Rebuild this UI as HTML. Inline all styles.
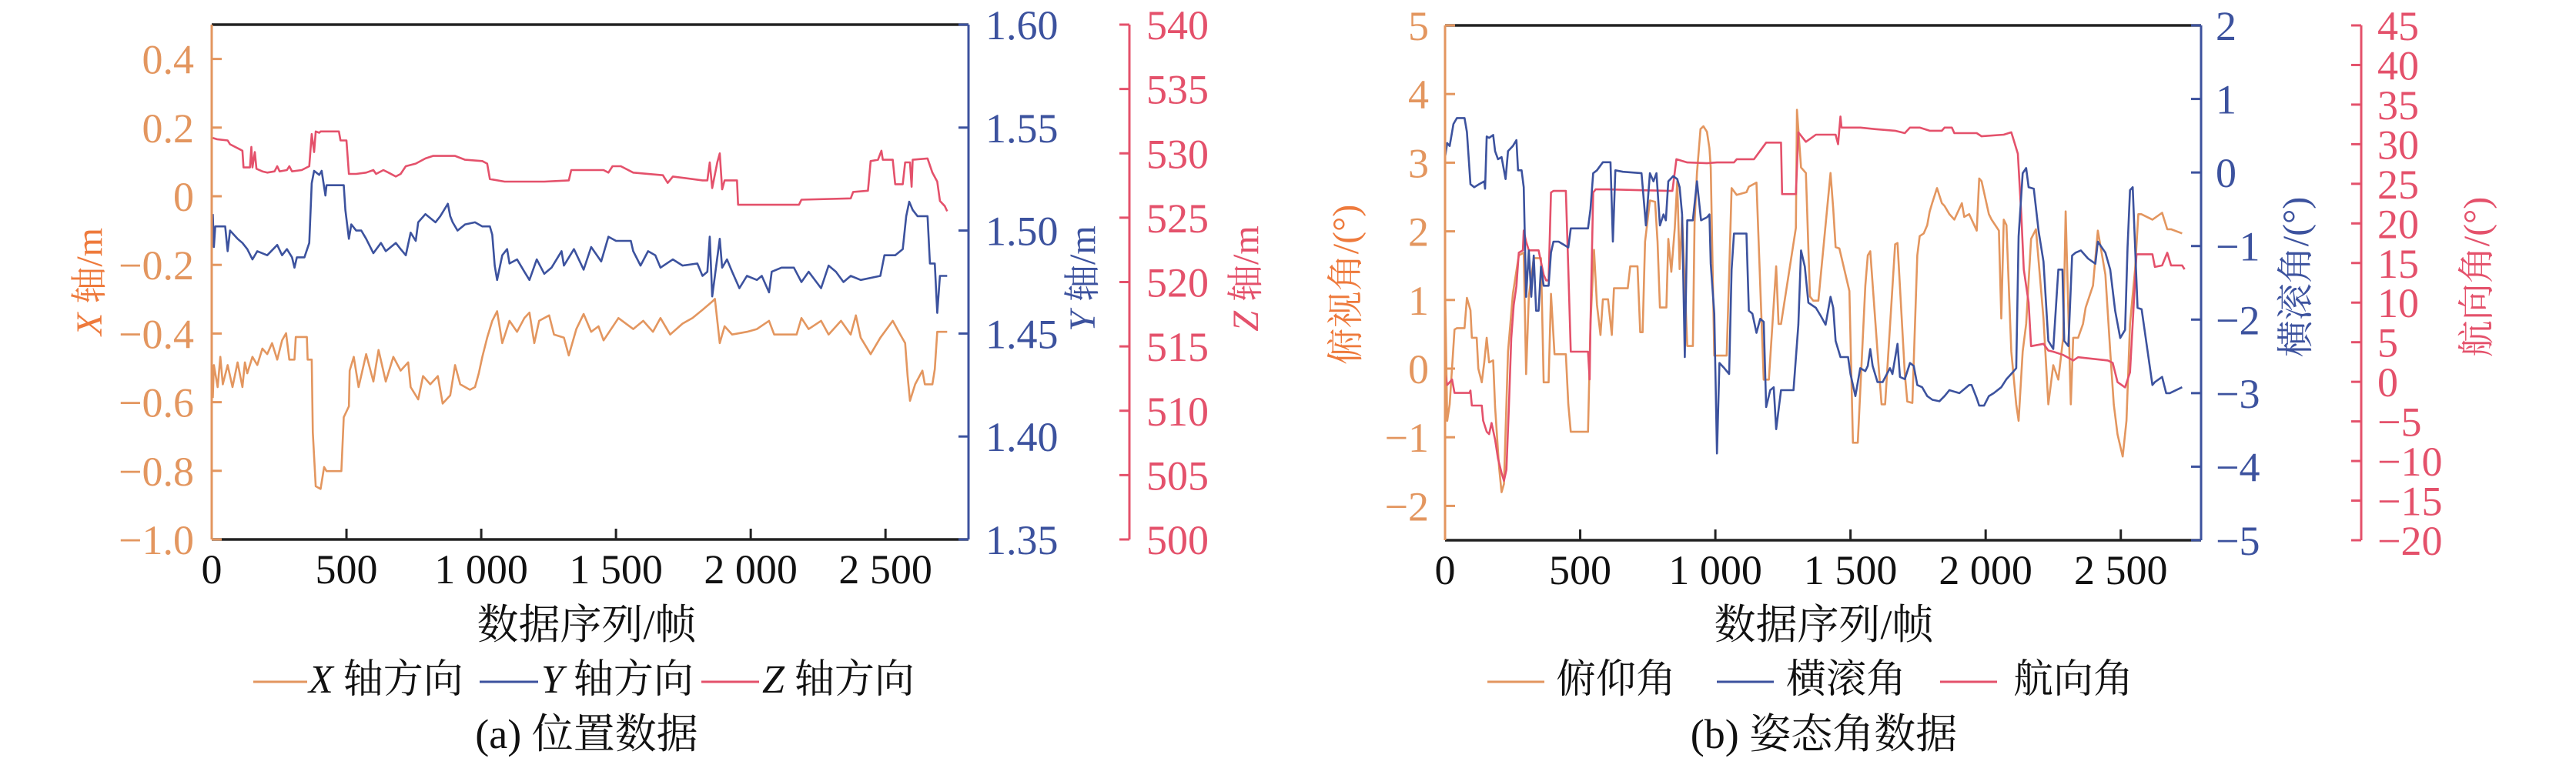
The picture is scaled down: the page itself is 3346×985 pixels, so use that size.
<!DOCTYPE html>
<html><head><meta charset="utf-8">
<style>
html,body{margin:0;padding:0;background:#fff;}
svg{display:block;}
text{font-family:"Liberation Serif","Noto Serif CJK SC",serif;}
</style></head>
<body>
<svg id="chart" width="3346" height="985" viewBox="0 0 3346 985" xmlns="http://www.w3.org/2000/svg">
<g id="panelA"></g>
<g id="panelB"></g>
</svg>
<script>
// ---------- DATA (panel a) ----------
const xTicks = [0, 500, 1000, 1500, 2000, 2500];
const xTickLabels = ["0", "500", "1 000", "1 500", "2 000", "2 500"];
const xPosTicks = [-1.0, -0.8, -0.6, -0.4, -0.2, 0, 0.2, 0.4];
const xPosTickLabels = ["\u22121.0", "\u22120.8", "\u22120.6", "\u22120.4", "\u22120.2", "0", "0.2", "0.4"];
const yPosTicks = [1.35, 1.40, 1.45, 1.50, 1.55, 1.60];
const yPosTickLabels = ["1.35", "1.40", "1.45", "1.50", "1.55", "1.60"];
const zPosTicks = [500, 505, 510, 515, 520, 525, 530, 535, 540];
const zPosTickLabels = ["500", "505", "510", "515", "520", "525", "530", "535", "540"];

const xFrames = [4,8,22,32,41,59,77,96,114,123,132,151,169,188,206,224,243,261,276,288,307,312,353,356,371,375,386,404,417,426,481,490,509,512,527,545,573,600,619,646,674,701,729,738,766,784,811,839,857,885,903,922,958,977,991,1004,1022,1041,1059,1078,1105,1133,1160,1179,1197,1215,1252,1270,1307,1325,1353,1380,1408,1435,1454,1509,1564,1601,1637,1665,1701,1747,1784,1821,1857,1867,1885,1903,1931,1986,2023,2068,2087,2170,2188,2215,2261,2289,2335,2371,2390,2408,2445,2481,2527,2555,2573,2582,2591,2610,2637,2646,2674,2683,2692,2729];
const xValues = [-0.588,-0.492,-0.556,-0.468,-0.548,-0.492,-0.556,-0.484,-0.556,-0.484,-0.516,-0.468,-0.492,-0.444,-0.460,-0.428,-0.476,-0.420,-0.399,-0.476,-0.476,-0.410,-0.410,-0.476,-0.476,-0.688,-0.845,-0.853,-0.789,-0.801,-0.801,-0.644,-0.612,-0.508,-0.468,-0.556,-0.460,-0.540,-0.448,-0.540,-0.468,-0.508,-0.484,-0.556,-0.592,-0.524,-0.548,-0.524,-0.604,-0.580,-0.492,-0.548,-0.564,-0.556,-0.516,-0.468,-0.412,-0.363,-0.335,-0.428,-0.363,-0.395,-0.355,-0.339,-0.428,-0.363,-0.347,-0.403,-0.412,-0.464,-0.387,-0.343,-0.395,-0.379,-0.420,-0.355,-0.387,-0.363,-0.395,-0.355,-0.403,-0.371,-0.355,-0.331,-0.307,-0.299,-0.428,-0.379,-0.403,-0.395,-0.387,-0.363,-0.403,-0.403,-0.355,-0.387,-0.363,-0.403,-0.363,-0.403,-0.347,-0.412,-0.460,-0.412,-0.363,-0.403,-0.428,-0.524,-0.596,-0.548,-0.508,-0.548,-0.548,-0.504,-0.395,-0.395];

const yFrames = [4,8,13,50,59,68,96,114,132,151,169,206,243,261,279,298,307,316,344,362,371,380,399,408,422,426,490,496,509,518,536,555,573,600,628,646,683,701,720,738,757,766,793,830,848,876,885,894,912,940,977,1004,1032,1041,1050,1059,1078,1096,1105,1133,1160,1179,1206,1234,1261,1298,1307,1344,1380,1408,1445,1472,1500,1555,1564,1591,1619,1646,1665,1711,1747,1802,1821,1839,1848,1857,1867,1885,1894,1912,1931,1958,1986,2023,2041,2068,2078,2114,2160,2188,2215,2261,2289,2316,2344,2371,2408,2481,2496,2536,2564,2577,2588,2601,2619,2656,2665,2683,2692,2702,2729];
const yValues = [1.508,1.492,1.502,1.502,1.490,1.500,1.496,1.494,1.491,1.486,1.490,1.488,1.493,1.488,1.491,1.487,1.482,1.487,1.487,1.494,1.523,1.529,1.527,1.529,1.517,1.522,1.522,1.510,1.496,1.503,1.500,1.500,1.496,1.489,1.494,1.490,1.494,1.491,1.488,1.499,1.495,1.504,1.508,1.504,1.507,1.513,1.507,1.504,1.500,1.503,1.504,1.502,1.502,1.498,1.483,1.476,1.488,1.491,1.484,1.486,1.480,1.476,1.486,1.479,1.482,1.490,1.483,1.491,1.481,1.492,1.485,1.497,1.495,1.495,1.490,1.483,1.490,1.488,1.482,1.486,1.483,1.484,1.478,1.480,1.497,1.468,1.478,1.496,1.482,1.486,1.480,1.472,1.478,1.476,1.478,1.470,1.480,1.482,1.482,1.475,1.480,1.472,1.483,1.480,1.475,1.478,1.476,1.478,1.488,1.488,1.491,1.507,1.514,1.510,1.507,1.507,1.484,1.484,1.460,1.478,1.478];

const zFrames = [4,19,59,68,105,114,118,142,147,151,160,166,188,206,233,243,252,279,288,298,334,362,371,380,386,399,404,472,478,500,509,536,573,600,610,637,656,683,701,720,757,793,821,866,903,940,1004,1022,1032,1087,1234,1325,1334,1454,1472,1487,1518,1564,1674,1692,1711,1821,1839,1848,1857,1876,1885,1894,1903,1949,1953,2179,2188,2371,2380,2435,2445,2472,2485,2490,2527,2536,2564,2573,2591,2597,2601,2656,2674,2692,2702,2720,2729];
const zValues = [531.2,531.1,531.0,530.7,530.3,530.2,528.9,528.9,530.5,528.9,530.1,528.8,528.6,528.5,528.6,529.0,528.6,528.7,529.0,528.6,528.7,529.0,531.5,530.1,531.7,531.6,531.7,531.7,531.0,531.0,528.4,528.4,528.5,528.7,528.4,528.7,528.5,528.2,528.4,529.0,529.2,529.6,529.8,529.8,529.8,529.5,529.4,529.2,528.0,527.8,527.8,527.9,528.7,528.7,528.5,529.0,529.0,528.5,528.3,527.7,528.2,527.9,527.9,529.3,527.3,529.3,530.0,527.2,527.9,527.9,526.0,526.0,526.4,526.5,527.0,527.1,529.4,529.5,530.2,529.5,529.5,527.6,527.6,529.3,529.3,527.4,529.5,529.6,528.5,527.8,526.3,525.9,525.5];

// ---------- DATA (panel b) ----------
const pitchTicks = [-2, -1, 0, 1, 2, 3, 4, 5];
const pitchTickLabels = ["\u22122", "\u22121", "0", "1", "2", "3", "4", "5"];
const rollTicks = [-5, -4, -3, -2, -1, 0, 1, 2];
const rollTickLabels = ["\u22125", "\u22124", "\u22123", "\u22122", "\u22121", "0", "1", "2"];
const headTicks = [-20, -15, -10, -5, 0, 5, 10, 15, 20, 25, 30, 35, 40, 45];
const headTickLabels = ["\u221220", "\u221215", "\u221210", "\u22125", "0", "5", "10", "15", "20", "25", "30", "35", "40", "45"];

const pitchFrames = [0,8,17,35,44,72,81,94,99,117,123,136,145,154,163,178,185,200,209,218,233,251,273,291,300,310,328,355,365,383,392,405,447,456,465,529,538,551,562,575,584,603,617,625,639,676,685,712,722,731,740,758,777,786,795,819,826,837,850,859,868,877,896,917,923,932,945,956,969,978,983,996,1015,1042,1051,1060,1079,1115,1124,1152,1179,1188,1198,1225,1234,1243,1298,1302,1317,1335,1350,1362,1381,1426,1436,1445,1459,1496,1509,1527,1555,1564,1573,1600,1615,1628,1665,1674,1701,1710,1729,1747,1756,1771,1784,1793,1802,1820,1838,1848,1866,1884,1912,1921,1939,1967,1976,1985,2012,2022,2049,2058,2067,2077,2095,2113,2122,2137,2150,2168,2186,2214,2232,2250,2269,2287,2296,2315,2324,2342,2360,2370,2397,2415,2443,2461,2474,2488,2507,2521,2534,2553,2565,2576,2617,2653,2672,2686,2727,2736];
const pitchValues = [1.21,-0.76,-0.52,0.57,0.59,0.59,1.03,0.85,0.45,0.45,0.00,-0.20,0.09,0.45,0.09,0.12,-0.56,-1.44,-1.80,-1.68,0.25,1.09,1.65,1.69,-0.08,1.05,1.61,1.61,-0.20,-0.20,1.09,0.21,0.21,-0.52,-0.92,-0.92,0.65,1.73,0.93,0.49,1.01,1.01,0.49,1.17,1.17,1.17,1.49,1.49,0.53,0.53,1.85,2.45,2.43,1.85,0.89,0.89,1.89,1.41,2.05,2.73,1.45,2.21,0.33,0.33,2.13,2.85,3.49,3.53,3.45,3.21,2.93,0.19,0.19,0.19,1.37,2.63,2.53,2.57,2.65,2.71,-0.16,-0.16,-0.16,1.49,0.65,0.65,2.05,3.77,2.93,2.85,1.05,0.99,0.99,2.85,2.33,1.77,1.75,1.13,-1.08,-1.08,1.21,1.65,1.71,0.25,-0.52,-0.52,1.81,1.83,-0.08,-0.48,-0.50,1.65,1.93,1.97,2.09,2.29,2.41,2.63,2.41,2.37,2.25,2.17,2.41,2.21,2.25,2.01,2.77,2.73,2.25,2.17,2.01,0.73,2.17,2.09,0.25,-0.52,-0.76,0.25,0.65,1.89,2.03,0.73,-0.52,0.05,-0.16,0.45,2.29,-0.52,0.45,0.45,0.65,0.89,1.21,2.01,1.37,0.25,-0.52,-0.96,-1.28,-0.76,0.65,1.45,2.25,2.25,2.17,2.27,2.03,2.03,1.97];

const rollFrames = [0,8,17,31,44,72,81,94,108,126,145,148,154,163,178,185,196,209,224,233,251,264,270,283,291,300,310,319,328,337,346,355,365,383,392,401,420,438,456,465,529,538,548,562,584,612,621,630,658,727,743,758,771,782,795,808,817,826,844,859,868,877,887,896,917,932,947,969,978,983,996,1006,1015,1033,1051,1060,1069,1115,1124,1137,1152,1166,1179,1188,1203,1216,1225,1243,1262,1289,1307,1317,1331,1344,1372,1390,1408,1426,1436,1445,1463,1491,1500,1518,1536,1555,1564,1573,1582,1600,1619,1646,1655,1674,1683,1701,1720,1734,1747,1765,1784,1803,1829,1848,1866,1903,1939,1948,1967,1976,1994,2012,2030,2058,2077,2104,2113,2122,2137,2150,2159,2178,2196,2214,2232,2250,2269,2284,2291,2306,2320,2333,2352,2379,2406,2415,2443,2461,2479,2498,2516,2525,2534,2544,2562,2577,2617,2626,2653,2668,2681,2727,2736];
const rollValues = [0.21,0.40,0.36,0.66,0.74,0.74,0.55,-0.16,-0.20,-0.16,-0.12,-0.22,0.49,0.47,0.51,0.29,0.18,0.21,-0.09,0.29,0.36,0.44,0.03,0.03,-0.20,-1.69,-1.06,-1.69,-1.13,-1.88,-1.88,-1.28,-1.54,-1.54,-1.09,-0.94,-0.94,-0.98,-1.02,-0.76,-0.76,-0.50,-0.01,0.03,0.14,0.14,-0.94,0.03,0.01,-0.01,-0.72,-0.01,-0.12,-0.01,-0.72,-0.57,-0.65,-0.12,-0.05,-0.09,-0.20,-0.57,-2.51,-0.65,-0.65,-0.12,-0.65,-0.61,-0.57,-1.24,-1.92,-3.82,-2.59,-2.66,-2.74,-1.32,-0.83,-0.83,-1.88,-1.92,-2.18,-1.99,-2.03,-3.19,-2.96,-2.92,-3.49,-2.96,-2.96,-2.96,-2.07,-1.06,-1.28,-1.77,-1.84,-1.95,-2.07,-1.69,-1.84,-2.29,-2.51,-2.51,-2.74,-3.04,-2.66,-2.70,-2.63,-2.40,-2.63,-2.85,-2.85,-2.66,-2.74,-2.33,-2.78,-2.81,-2.59,-2.63,-2.89,-2.92,-3.04,-3.09,-3.11,-3.04,-2.96,-3.00,-2.89,-2.89,-3.07,-3.17,-3.17,-3.04,-3.00,-2.92,-2.81,-2.70,-2.66,-0.87,-0.01,0.06,-0.20,-0.22,-0.80,-1.21,-2.29,-2.40,-1.32,-1.32,-2.29,-2.36,-1.13,-1.09,-1.06,-1.17,-1.24,-0.94,-1.09,-1.32,-1.88,-2.25,-2.14,-1.02,-0.24,-0.20,-1.84,-1.86,-2.89,-2.85,-2.78,-3.00,-3.00,-2.92];

const headFrames = [0,8,26,35,90,94,99,136,141,154,163,172,185,196,209,218,227,236,245,254,264,273,288,291,300,310,346,365,374,383,392,401,447,456,465,529,535,538,548,557,603,713,841,856,896,969,1006,1069,1079,1143,1188,1243,1247,1298,1307,1335,1372,1445,1454,1463,1467,1500,1537,1592,1665,1701,1720,1756,1793,1838,1848,1875,1884,1967,1985,2067,2095,2104,2119,2132,2141,2159,2168,2214,2232,2250,2287,2324,2342,2452,2470,2488,2516,2534,2558,2617,2626,2653,2672,2686,2727,2736];
const headValues = [1.0,-0.4,0.3,-1.4,-1.4,-1.1,-3.0,-3.0,-4.9,-6.3,-6.6,-5.2,-7.3,-9.7,-11.5,-12.5,-11.1,-3.2,5.5,9.7,12.1,16.3,16.6,19.1,17.7,16.6,16.6,13.5,12.8,12.8,23.9,24.1,24.1,14.2,3.8,3.8,0.3,7.3,23.9,24.3,24.3,24.2,24.1,28.1,27.7,27.6,27.7,27.7,28.1,28.1,30.2,30.2,23.7,23.7,31.5,30.3,31.2,31.2,30.0,33.5,32.1,32.1,32.1,31.9,31.7,31.4,32.1,32.1,31.7,31.7,32.1,32.1,31.4,31.4,31.0,31.2,31.5,30.5,28.8,21.1,14.2,10.0,4.5,4.8,3.95,3.8,3.4,2.7,3.1,2.7,2.4,-0.04,-0.7,1.2,16.1,16.1,14.5,14.7,16.3,14.7,14.7,14.2];

// ---------- DRAWING ----------
const NS = "http://www.w3.org/2000/svg";
const C_OR = "#E3965F", C_OR_T = "#EE7A3C", C_BL = "#3C529E", C_RD = "#E4516B";
function mk(parent, tag, attrs, text) {
  const el = document.createElementNS(NS, tag);
  for (const k in attrs) el.setAttribute(k, attrs[k]);
  if (text !== undefined) el.textContent = text;
  parent.appendChild(el);
  return el;
}
function linScale(d0, d1, r0, r1) { return v => r0 + (v - d0) * (r1 - r0) / (d1 - d0); }

function drawSeries(g, frames, values, sx, sy, color, name) {
  let d = "";
  for (let i = 0; i < frames.length; i++) d += (i ? "L" : "M") + sx(frames[i]).toFixed(1) + "," + sy(values[i]).toFixed(1);
  const p = mk(g, "path", {d: d, fill: "none", stroke: color, "stroke-width": 2.6, "stroke-linejoin": "round"});
  
  
}
function yAxis(g, xpos, sy, top, bottom, ticks, labels, color, side, labelX, anchor, name) {
  const ax = mk(g, "line", {x1: xpos, y1: top, x2: xpos, y2: bottom, stroke: color, "stroke-width": 3});
  
  
  for (let i = 0; i < ticks.length; i++) {
    const y = sy(ticks[i]);
    const t = mk(g, "line", {x1: xpos, y1: y, x2: xpos + side * 13, y2: y, stroke: color, "stroke-width": 3});
    
    
    const tl = mk(g, "text", {x: labelX, y: y + 19, fill: color, "font-size": 54, "text-anchor": anchor}, labels[i]);
    
    
  }
}
function xAxis(g, sx, x0, x1, y) {
  const ax = mk(g, "line", {x1: x0, y1: y, x2: x1, y2: y, stroke: "#222", "stroke-width": 3.5});
  
  
  for (let i = 0; i < xTicks.length; i++) {
    const x = sx(xTicks[i]);
    const t = mk(g, "line", {x1: x, y1: y, x2: x, y2: y - 14, stroke: "#222", "stroke-width": 3});
    
    
    const tl = mk(g, "text", {x: x, y: y + 57, fill: "#111", "font-size": 54, "text-anchor": "middle"}, xTickLabels[i]);
    
    
  }
}
function vLabel(g, cx, cy, color, parts, name) {
  const t = mk(g, "text", {x: 0, y: 0, fill: color, "font-size": 48, "text-anchor": "middle", transform: `translate(${cx},${cy}) rotate(-90)`, "dominant-baseline": "central"});
  
  
  for (const p of parts) {
    const s = mk(t, "tspan", p.it ? {"font-style": "italic"} : {}, p.t);
  }
}
function legendItem(g, x1, x2, tx, y, color, parts, name) {
  const gi = mk(g, "g", {});
  
  
  mk(gi, "line", {x1: x1, y1: y - 14, x2: x2, y2: y - 14, stroke: color, "stroke-width": 3});
  const t = mk(gi, "text", {x: tx, y: y, fill: "#111", "font-size": 52}, "");
  for (const p of parts) mk(t, "tspan", p.it ? {"font-style": "italic"} : {}, p.t);
}

// Panel a
(function () {
  const g = document.getElementById("panelA");
  const L = 275, R = 1258, T = 32, B = 701;
  const sx = linScale(0, 2808, L, R);
  const sxP = linScale(-1.0, 0.5, B, T);
  const syP = linScale(1.35, 1.60, B, T);
  const szP = linScale(500, 540, B, T);
  const top = mk(g, "line", {x1: L, y1: T, x2: R, y2: T, stroke: "#222", "stroke-width": 3.5});
  
  
  drawSeries(g, zFrames, zValues, sx, szP, C_RD, "z-series-line");
  drawSeries(g, yFrames, yValues, sx, syP, C_BL, "y-series-line");
  drawSeries(g, xFrames, xValues, sx, sxP, C_OR, "x-series-line");
  xAxis(g, sx, L, R, B);
  yAxis(g, L, sxP, T, B, xPosTicks, xPosTickLabels, C_OR, 1, 252, "end", "x-position-axis");
  yAxis(g, R, syP, T, B, yPosTicks, yPosTickLabels, C_BL, -1, 1280, "start", "y-position-axis");
  yAxis(g, 1467, szP, T, B, zPosTicks, zPosTickLabels, C_RD, -1, 1489, "start", "z-position-axis");
  vLabel(g, 116, 366, C_OR_T, [{t: "X", it: true}, {t: " 轴/m"}], "x-axis-title");
  vLabel(g, 1406, 362, C_BL, [{t: "Y", it: true}, {t: " 轴/m"}], "y-axis-title");
  vLabel(g, 1618, 362, C_RD, [{t: "Z", it: true}, {t: " 轴/m"}], "z-axis-title");
  const xt = mk(g, "text", {x: 762, y: 830, fill: "#111", "font-size": 54, "text-anchor": "middle"}, "数据序列/帧");
  
  
  const lg = mk(g, "g", {});
  
  
  legendItem(lg, 329, 399, 401, 900, C_OR, [{t: "X", it: true}, {t: " 轴方向"}], "legend-entry-x");
  legendItem(lg, 623, 699, 703, 900, C_BL, [{t: "Y", it: true}, {t: " 轴方向"}], "legend-entry-y");
  legendItem(lg, 911, 986, 990, 900, C_RD, [{t: "Z", it: true}, {t: " 轴方向"}], "legend-entry-z");
  const cap = mk(g, "text", {x: 762, y: 972, fill: "#111", "font-size": 54, "text-anchor": "middle"}, "(a) 位置数据");
  
  
})();

// Panel b
(function () {
  const g = document.getElementById("panelB");
  const L = 1877, R = 2859, T = 33, B = 702;
  const sx = linScale(0, 2797, L, R);
  const sPitch = linScale(-2.5, 5, B, T);
  const sRoll = linScale(-5, 2, B, T);
  const sHead = linScale(-20, 45, B, T);
  const top = mk(g, "line", {x1: L, y1: T, x2: R, y2: T, stroke: "#222", "stroke-width": 3.5});
  
  
  drawSeries(g, pitchFrames, pitchValues, sx, sPitch, C_OR, "pitch-series-line");
  drawSeries(g, headFrames, headValues, sx, sHead, C_RD, "heading-series-line");
  drawSeries(g, rollFrames, rollValues, sx, sRoll, C_BL, "roll-series-line");
  xAxis(g, sx, L, R, B);
  yAxis(g, L, sPitch, T, B, pitchTicks, pitchTickLabels, C_OR, 1, 1856, "end", "pitch-axis");
  yAxis(g, R, sRoll, T, B, rollTicks, rollTickLabels, C_BL, -1, 2878, "start", "roll-axis");
  yAxis(g, 3067, sHead, T, B, headTicks, headTickLabels, C_RD, -1, 3088, "start", "heading-axis");
  vLabel(g, 1748, 370, C_OR_T, [{t: "俯视角/(°)"}], "pitch-axis-title");
  vLabel(g, 2982, 360, C_BL, [{t: "横滚角/(°)"}], "roll-axis-title");
  vLabel(g, 3217, 360, C_RD, [{t: "航向角/(°)"}], "heading-axis-title");
  const xt = mk(g, "text", {x: 2369, y: 830, fill: "#111", "font-size": 54, "text-anchor": "middle"}, "数据序列/帧");
  
  
  const lg = mk(g, "g", {});
  
  
  legendItem(lg, 1932, 2006, 2021, 900, C_OR, [{t: "俯仰角"}], "legend-entry-pitch");
  legendItem(lg, 2230, 2304, 2320, 900, C_BL, [{t: "横滚角"}], "legend-entry-roll");
  legendItem(lg, 2520, 2594, 2615, 900, C_RD, [{t: "航向角"}], "legend-entry-heading");
  const cap = mk(g, "text", {x: 2369, y: 972, fill: "#111", "font-size": 54, "text-anchor": "middle"}, "(b) 姿态角数据");
  
  
})();
</script>
</body></html>
